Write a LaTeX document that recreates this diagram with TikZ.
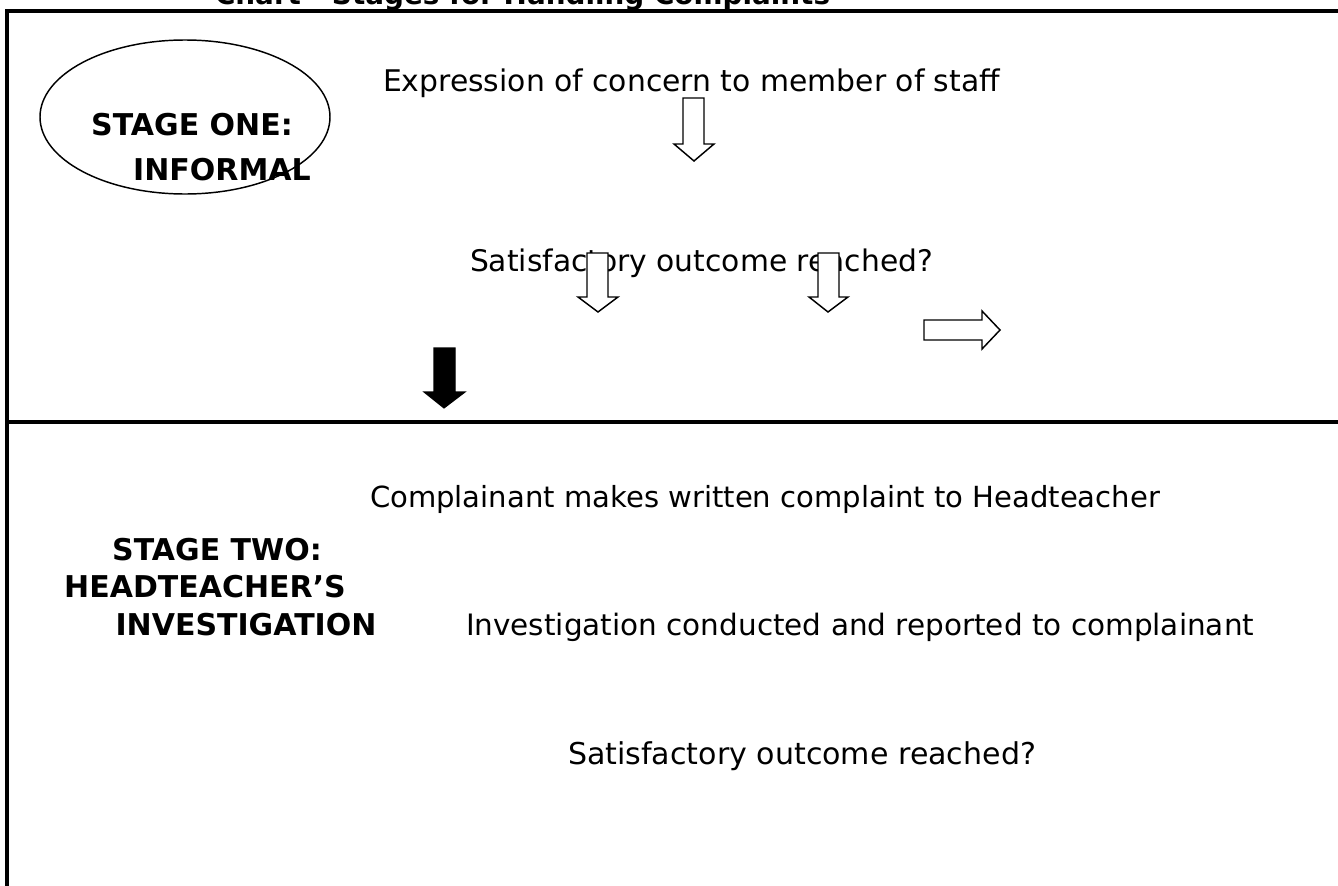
\documentclass[tikz,border=0pt]{standalone}
\usepackage{graphicx}
\usepackage{fontspec}
\setmainfont{DejaVu Sans}
\newlength\pxu
\setlength\pxu{0.75pt}
\newcommand{\fitw}[2]{\resizebox{#1\pxu}{!}{#2}}
\tikzset{
  txt/.style={anchor=base west, inner sep=0pt, outer sep=0pt},
  lbl/.style={anchor=base, inner sep=0pt, outer sep=0pt, font=\fontsize{22.5}{27}\selectfont\bfseries},
  frameline/.style={line width=2.6pt},
  blockarrow/.style={draw=black, line width=1.1pt, fill=white, line join=miter},
  solidarrow/.style={draw=black, line width=0.8pt, fill=black},
}
\begin{document}
\begin{tikzpicture}[x=0.75pt, y=-0.75pt]
\useasboundingbox (0,0) rectangle (1338,885);
\clip (0,0) rectangle (1338,885);
\fill[white] (0,0) rectangle (1338,885);
% title (cut at top, as in the reference)
\node[txt] (title) at (215,4) {\fitw{615}{\bfseries Chart - Stages for Handling Complaints}};
% frame
\draw[frameline] (7,890) -- (7,11) -- (1345,11);
\draw[frameline] (7,422) -- (1345,422);
% stage one
\draw[line width=1.1pt] (185,117) ellipse [x radius=145, y radius=77];
\node[lbl] (s1a) at (192,135) {STAGE ONE:};
\node[lbl] (s1b) at (222,180) {INFORMAL};
\node[txt] (expr) at (383,91) {\fitw{617}{Expression of concern to member of staff}};
\node[txt] (sat1) at (470,271) {\fitw{463}{Satisfactory outcome reached?}};
% arrows stage one
\draw[blockarrow] (683,98) -- (704,98) -- (704,144) -- (714,144) -- (694,161) -- (674,144) -- (683,144) -- cycle;
\draw[blockarrow] (587,253) -- (608,253) -- (608,297) -- (618,297) -- (598,312) -- (578,297) -- (587,297) -- cycle;
\draw[blockarrow] (818,253) -- (839,253) -- (839,297) -- (848,297) -- (828,312) -- (809,297) -- (818,297) -- cycle;
\draw[blockarrow] (924,320) -- (982,320) -- (982,311) -- (1000,330) -- (982,349) -- (982,340) -- (924,340) -- cycle;
\draw[solidarrow] (434,348) -- (455,348) -- (455,392) -- (465,392) -- (444,408) -- (424,392) -- (434,392) -- cycle;
% stage two
\node[lbl] (s2a) at (217,560) {STAGE TWO:};
\node[lbl] (s2b) at (205,597) {HEADTEACHER'S};
\node[lbl] (s2c) at (246,635) {INVESTIGATION};
\node[txt] (comp) at (370,507) {\fitw{790}{Complainant makes written complaint to Headteacher}};
\node[txt] (inv) at (466,635) {\fitw{788}{Investigation conducted and reported to complainant}};
\node[txt] (sat2) at (568,764) {\fitw{468}{Satisfactory outcome reached?}};
\end{tikzpicture}
\end{document}
